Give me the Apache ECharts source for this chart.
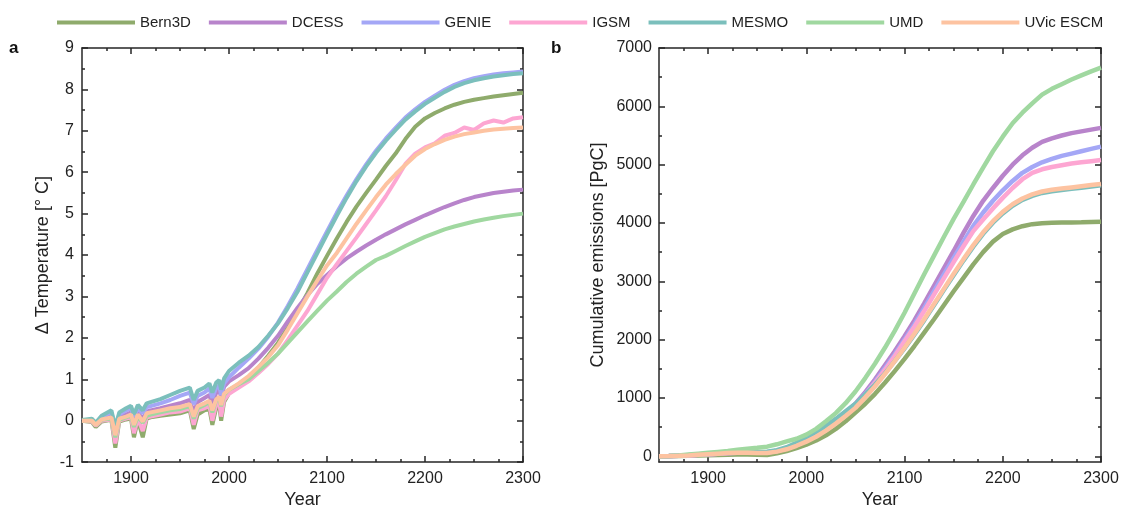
<!DOCTYPE html>
<html>
<head>
<meta charset="utf-8">
<script src="https://cdn.jsdelivr.net/npm/echarts@6/dist/echarts.min.js"></script>
<style>
html, body { margin: 0; padding: 0; background: #fff; }
#chart { width: 1123px; height: 514px; }
</style>
</head>
<body>
<div id="chart"></div>
<script>
var models = ["Bern3D", "DCESS", "GENIE", "IGSM", "MESMO", "UMD", "UVic ESCM"];
var colors = ["#8fab6c", "#b884cb", "#a4a7f6", "#fda6d2", "#7bbfbc", "#a0d8a0", "#fdc3a1"];

// panel a: temperature change
var tempYears = [1850, 1860, 1864, 1870, 1880, 1884, 1888, 1895, 1900, 1903, 1907, 1912, 1916, 1920,
  1930, 1940, 1950, 1960, 1964, 1968, 1975, 1980, 1983, 1987, 1990, 1992, 1995,
  2000, 2010, 2020, 2030, 2040, 2050, 2060, 2070, 2080, 2090, 2100, 2110, 2120, 2130, 2140, 2150,
  2160, 2170, 2180, 2190, 2200, 2210, 2220, 2230, 2240, 2250, 2260, 2270, 2280, 2290, 2300];
var tempBern3D = [0, -0.03, -0.15, -0.02, 0.02, -0.65, -0.02, 0.03, 0.05, -0.4, 0.02, -0.4, 0.05, 0.08,
  0.12, 0.15, 0.18, 0.25, -0.2, 0.15, 0.25, 0.28, -0.1, 0.32, 0.38, 0.0, 0.45,
  0.66, 0.85, 1.02, 1.28, 1.57, 1.88, 2.25, 2.65, 3.08, 3.55, 3.98, 4.4, 4.8, 5.17, 5.5, 5.82,
  6.15, 6.45, 6.8, 7.1, 7.3, 7.43, 7.54, 7.63, 7.7, 7.75, 7.79, 7.83, 7.86, 7.89, 7.92];
var tempDCESS = [0, 0.02, -0.08, 0.05, 0.12, -0.3, 0.08, 0.15, 0.2, -0.05, 0.2, 0.05, 0.22, 0.25,
  0.3, 0.36, 0.42, 0.5, 0.2, 0.45, 0.55, 0.62, 0.4, 0.68, 0.75, 0.55, 0.82,
  0.95, 1.1, 1.27, 1.5, 1.76, 2.05, 2.4, 2.73, 3.03, 3.3, 3.52, 3.73, 3.92, 4.08, 4.23, 4.37,
  4.5, 4.62, 4.74, 4.85, 4.96, 5.06, 5.16, 5.25, 5.33, 5.4, 5.45, 5.5, 5.53, 5.56, 5.58];
var tempGENIE = [0, 0.03, -0.08, 0.1, 0.2, -0.2, 0.15, 0.25, 0.3, 0.1, 0.3, 0.18, 0.33, 0.35,
  0.42, 0.5, 0.6, 0.68, 0.4, 0.6, 0.68, 0.78, 0.55, 0.8, 0.85, 0.62, 0.9,
  1.05, 1.28, 1.5, 1.74, 2.03, 2.37, 2.77, 3.2, 3.66, 4.12, 4.57, 5.02, 5.44, 5.83, 6.19, 6.52,
  6.81, 7.07, 7.32, 7.52, 7.7, 7.85, 7.99, 8.11, 8.2, 8.27, 8.32, 8.36, 8.39, 8.41, 8.43];
var tempIGSM = [0, -0.02, -0.12, 0.0, 0.03, -0.55, 0.0, 0.05, 0.08, -0.3, 0.05, -0.25, 0.08, 0.1,
  0.15, 0.2, 0.22, 0.3, -0.1, 0.25, 0.3, 0.35, 0.0, 0.4, 0.45, 0.1, 0.5,
  0.65, 0.8, 0.95, 1.15, 1.37, 1.62, 1.95, 2.3, 2.65, 3.05, 3.45, 3.78, 4.1, 4.42, 4.75, 5.08,
  5.42, 5.8, 6.2, 6.45, 6.6, 6.7, 6.88, 6.95, 7.08, 7.02, 7.18, 7.25, 7.2, 7.3, 7.33];
var tempMESMO = [0.02, 0.05, -0.05, 0.12, 0.25, -0.15, 0.2, 0.3, 0.36, 0.15, 0.38, 0.25, 0.42, 0.45,
  0.52, 0.62, 0.72, 0.8, 0.5, 0.72, 0.8, 0.9, 0.68, 0.92, 0.98, 0.75, 1.02,
  1.2, 1.4, 1.57, 1.78, 2.05, 2.35, 2.72, 3.12, 3.58, 4.04, 4.5, 4.95, 5.38, 5.78, 6.14, 6.47,
  6.76, 7.02, 7.27, 7.47, 7.65, 7.8, 7.94, 8.06, 8.15, 8.22, 8.27, 8.31, 8.34, 8.37, 8.39];
var tempUMD = [0, 0, -0.1, 0.02, 0.05, -0.4, 0.02, 0.08, 0.12, -0.15, 0.1, -0.05, 0.12, 0.15,
  0.2, 0.25, 0.28, 0.35, 0.05, 0.3, 0.38, 0.45, 0.2, 0.5, 0.55, 0.35, 0.62,
  0.75, 0.88, 1.0, 1.2, 1.4, 1.62, 1.88, 2.14, 2.4, 2.65, 2.9, 3.12, 3.35, 3.55, 3.72, 3.88,
  3.98, 4.1, 4.22, 4.33, 4.44, 4.53, 4.62, 4.69, 4.75, 4.81, 4.86, 4.9, 4.94, 4.97, 5.0];
var tempUVic = [0, 0.0, -0.1, 0.03, 0.08, -0.35, 0.05, 0.1, 0.15, -0.1, 0.15, -0.02, 0.18, 0.2,
  0.25, 0.3, 0.33, 0.4, 0.1, 0.35, 0.42, 0.48, 0.25, 0.52, 0.58, 0.38, 0.65,
  0.75, 0.9, 1.08, 1.3, 1.53, 1.82, 2.2, 2.6, 3.0, 3.38, 3.75, 4.05, 4.4, 4.75, 5.08, 5.4,
  5.7, 5.95, 6.18, 6.4, 6.56, 6.68, 6.78, 6.86, 6.92, 6.96, 7.0, 7.03, 7.05, 7.07, 7.08];

// panel b: cumulative emissions
var emisYears = [1850, 1860, 1870, 1880, 1890, 1900, 1910, 1920, 1930, 1940, 1950, 1960, 1970, 1980, 1990,
  2000, 2010, 2020, 2030, 2040, 2050, 2060, 2070, 2080, 2090, 2100, 2110, 2120, 2130, 2140, 2150,
  2160, 2170, 2180, 2190, 2200, 2210, 2220, 2230, 2240, 2250, 2260, 2270, 2280, 2290, 2300];
var emisBern3D = [0, 0, 3, 8, 12, 18, 22, 26, 30, 30, 25, 20, 50, 90, 140,
  200, 270, 360, 470, 600, 750, 900, 1070, 1260, 1460, 1670, 1890, 2120, 2350, 2590, 2830,
  3060, 3290, 3500, 3680, 3810, 3890, 3945, 3980, 3995, 4003, 4006, 4009, 4012, 4016, 4020];
var emisDCESS = [0, 3, 8, 15, 25, 35, 45, 55, 65, 70, 70, 70, 95, 140, 200,
  290, 380, 490, 610, 750, 900, 1100, 1320, 1560, 1800, 2060, 2330, 2620, 2920, 3220, 3520,
  3830, 4120, 4380, 4600, 4810, 5000, 5160, 5290, 5390, 5450, 5500, 5540, 5570, 5600, 5630];
var emisGENIE = [0, 3, 8, 15, 25, 35, 45, 55, 62, 65, 65, 65, 90, 135, 195,
  285, 375, 480, 600, 740, 880, 1070, 1280, 1510, 1750, 2000, 2260, 2540, 2830, 3120, 3400,
  3680, 3950, 4180, 4380, 4560, 4720, 4860, 4960, 5040, 5100, 5150, 5190, 5230, 5270, 5310];
var emisIGSM = [0, 3, 8, 15, 25, 35, 45, 55, 62, 65, 65, 65, 88, 130, 190,
  270, 355, 460, 580, 715, 860, 1050, 1260, 1480, 1720, 1970, 2220, 2490, 2770, 3050, 3330,
  3600, 3860, 4060, 4250, 4430, 4600, 4750, 4860, 4920, 4960, 4990, 5020, 5040, 5060, 5080];
var emisMESMO = [0, 5, 12, 20, 30, 40, 50, 60, 70, 75, 75, 78, 105, 155, 230,
  330, 415, 520, 640, 770, 900, 1060, 1230, 1420, 1630, 1850, 2085, 2330, 2590, 2850, 3105,
  3355, 3595, 3815, 4005, 4165, 4295, 4395, 4465, 4515, 4545, 4565, 4585, 4605, 4625, 4645];
var emisUMD = [0, 5, 15, 30, 45, 60, 75, 90, 110, 130, 145, 165, 205, 255, 300,
  370, 470, 600, 740, 910, 1110, 1340, 1590, 1860, 2150, 2460, 2790, 3120, 3440, 3760, 4070,
  4360, 4660, 4950, 5230, 5480, 5710, 5890, 6050, 6200, 6300, 6380, 6460, 6530, 6600, 6665];
var emisUVic = [0, 3, 8, 15, 25, 35, 45, 55, 60, 60, 55, 55, 80, 120, 180,
  250, 335, 440, 560, 690, 830, 1010, 1200, 1410, 1630, 1860, 2100, 2350, 2610, 2870, 3130,
  3380, 3620, 3840, 4030, 4190, 4320, 4420, 4490, 4540, 4570, 4590, 4610, 4630, 4650, 4670];

// tick positions
var yearTicks = [1900, 2000, 2100, 2200, 2300];
var yearMinorTicks = [1875, 1925, 1950, 1975, 2025, 2050, 2075, 2125, 2150, 2175, 2225, 2250, 2275];
var emisTicks = [0, 1000, 2000, 3000, 4000, 5000, 6000, 7000];
var emisMinorTicks = [500, 1500, 2500, 3500, 4500, 5500, 6500];

var tempSeries = [tempBern3D, tempDCESS, tempGENIE, tempIGSM, tempMESMO, tempUMD, tempUVic];
var emisSeries = [emisBern3D, emisDCESS, emisGENIE, emisIGSM, emisMESMO, emisUMD, emisUVic];

var axisColor = "#262626";
var fontFam = "Liberation Sans, Arial, Helvetica, sans-serif";
var labelStyle = { color: "#222", fontSize: 16, fontFamily: fontFam };
var nameStyle = { color: "#222", fontSize: 18, fontFamily: fontFam };
var plain = function (v) { return String(v); };

function yearAxis(grid, pos, minor, withLabel) {
  var ticks = minor ? yearMinorTicks : yearTicks;
  return {
    type: "value", gridIndex: grid, position: pos, min: 1850, max: 2300,
    axisLine: { show: !minor, onZero: false, lineStyle: { color: axisColor, width: 1.5 } },
    axisTick: { show: true, inside: true, length: minor ? 3 : 6, customValues: ticks,
      lineStyle: { color: axisColor, width: 1.5 } },
    axisLabel: Object.assign({ show: withLabel, customValues: ticks, margin: 8, formatter: plain }, labelStyle),
    splitLine: { show: false },
    name: withLabel ? "Year" : "", nameLocation: "middle", nameGap: 18, nameTextStyle: nameStyle
  };
}

function emisAxis(pos, minor, withLabel) {
  var ticks = minor ? emisMinorTicks : emisTicks;
  return {
    type: "value", gridIndex: 1, position: pos, min: -100, max: 7000,
    axisLine: { show: !minor, onZero: false, lineStyle: { color: axisColor, width: 1.5 } },
    axisTick: { show: true, inside: true, length: minor ? 3 : 6, customValues: ticks,
      lineStyle: { color: axisColor, width: 1.5 } },
    axisLabel: Object.assign({ show: withLabel, customValues: ticks, margin: 7, formatter: plain }, labelStyle),
    splitLine: { show: false },
    name: withLabel ? "Cumulative emissions [PgC]" : "", nameLocation: "middle", nameGap: 52,
    nameTextStyle: nameStyle
  };
}

function tempAxis(pos, withLabel) {
  return {
    type: "value", gridIndex: 0, position: pos, min: -1, max: 9, interval: 1,
    axisLine: { show: true, onZero: false, lineStyle: { color: axisColor, width: 1.5 } },
    axisTick: { show: true, inside: true, length: 6, lineStyle: { color: axisColor, width: 1.5 } },
    minorTick: { show: true, splitNumber: 2, length: 3, lineStyle: { color: axisColor, width: 1.5 } },
    axisLabel: Object.assign({ show: withLabel, margin: 8 }, labelStyle),
    splitLine: { show: false },
    name: withLabel ? "\u0394 Temperature [\u00b0 C]" : "", nameLocation: "middle", nameGap: 30,
    nameTextStyle: nameStyle
  };
}

var series = [];
models.forEach(function (m, k) {
  series.push({
    name: m, type: "line", xAxisIndex: 0, yAxisIndex: 0, symbol: "none",
    lineStyle: { color: colors[k], width: 4 }, itemStyle: { color: colors[k] },
    data: tempYears.map(function (y, i) { return [y, tempSeries[k][i]]; })
  });
  series.push({
    name: m, type: "line", xAxisIndex: 4, yAxisIndex: 2, symbol: "none",
    lineStyle: { color: colors[k], width: 4.5 }, itemStyle: { color: colors[k] },
    data: emisYears.map(function (y, i) { return [y, emisSeries[k][i]]; })
  });
});

var chart = echarts.init(document.getElementById("chart"));
var option = {
  animation: false,
  backgroundColor: "#fff",
  legend: {
    data: models, left: 52, top: 10, icon: "rect", itemWidth: 78, itemHeight: 4, itemGap: 18,
    textStyle: { color: "#222", fontSize: 15, fontFamily: fontFam }
  },
  grid: [
    { left: 82, right: 600, top: 48, bottom: 44 },
    { left: 659, right: 22, top: 48, bottom: 44 }
  ],
  xAxis: [
    yearAxis(0, "bottom", false, true), yearAxis(0, "bottom", true, false),
    yearAxis(0, "top", false, false), yearAxis(0, "top", true, false),
    yearAxis(1, "bottom", false, true), yearAxis(1, "bottom", true, false),
    yearAxis(1, "top", false, false), yearAxis(1, "top", true, false)
  ],
  yAxis: [
    tempAxis("left", true), tempAxis("right", false),
    emisAxis("left", false, true), emisAxis("left", true, false),
    emisAxis("right", false, false), emisAxis("right", true, false)
  ],
  graphic: [
    { type: "text", left: 9, top: 40, style: { text: "a", font: "bold 17px " + fontFam, fill: "#111" } },
    { type: "text", left: 551, top: 40, style: { text: "b", font: "bold 17px " + fontFam, fill: "#111" } }
  ],
  series: series
};
chart.setOption(option);
</script>
</body>
</html>
